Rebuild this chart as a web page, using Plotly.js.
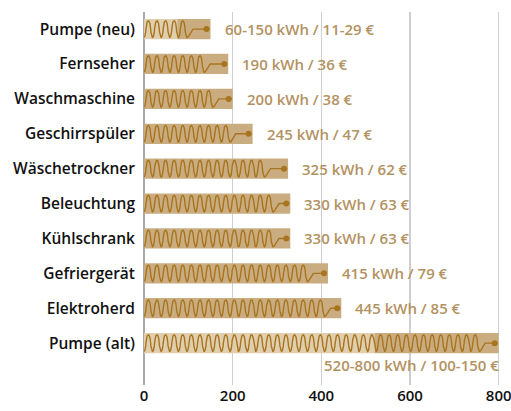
<!DOCTYPE html>
<html>
<head>
<meta charset="utf-8">
<script src="https://cdn.plot.ly/plotly-3.0.1.min.js"></script>
<style>html,body{margin:0;padding:0;background:#fff;}#chart{width:511px;height:411px;}</style>
</head>
<body>
<div id="chart"></div>
<script>
// Data (top to bottom)
const categories = ["Pumpe (neu)", "Fernseher", "Waschmaschine", "Geschirrspüler", "Wäschetrockner", "Beleuchtung", "Kühlschrank", "Gefriergerät", "Elektroherd", "Pumpe (alt)"];
const lowValues  = [75, 0, 0, 0, 0, 0, 0, 0, 0, 520];
const highValues = [150, 190, 200, 245, 325, 330, 330, 415, 445, 800];
const valueLabels = ["60-150 kWh / 11-29 €", "190 kWh / 36 €", "200 kWh / 38 €", "245 kWh / 47 €", "325 kWh / 62 €", "330 kWh / 63 €", "330 kWh / 63 €", "415 kWh / 79 €", "445 kWh / 85 €", "520-800 kWh / 100-150 €"];
const xTicks = [0, 200, 400, 600, 800];

const idx = categories.map((c, i) => i);
const lightCol = '#e0cfae';
const darkCol = '#c9ad80';
const lineCol = '#a9741f';
const textCol = '#b39262';
const font = "'Open Sans', 'DejaVu Sans', sans-serif";

// decorative coil line inside each bar
const P = 19.4, A = 0.24, tailLen = 36;
const c = 0.15 * P / (2 * Math.PI);
const wx = [], wy = [];
const px = [], py = [];
idx.forEach(i => {
  const v = highValues[i];
  const n = Math.floor((v - tailLen) / P);
  const end = n * P;
  const steps = n * 40;
  for (let k = 0; k <= steps; k++) {
    const t = 2 * Math.PI * n * k / steps;
    const cs = Math.cos(t);
    wx.push(P * t / (2 * Math.PI) - c * Math.sin(t));
    wy.push(i + A * Math.sign(cs) * Math.pow(Math.abs(cs), 0.6));
  }
  // tail rising to centre
  const tl = P * 0.7;
  for (let k = 1; k <= 16; k++) {
    const t = k / 16;
    wx.push(end + tl * t);
    wy.push(i + A * (1 + Math.cos(Math.PI * t)) / 2);
  }
  wx.push(v - 9); wy.push(i);
  wx.push(null); wy.push(null);
  // plug prongs
  wx.push(v - 9, v - 2, null); wy.push(i, i, null);
  px.push(v - 9); py.push(i);
});

const traces = [
  {type: 'bar', orientation: 'h', y: idx, x: lowValues,
   marker: {color: lightCol}, width: 0.58, hoverinfo: 'skip'},
  {type: 'bar', orientation: 'h', y: idx, x: highValues.map((h, i) => h - lowValues[i]), base: lowValues,
   marker: {color: darkCol}, width: 0.58, hoverinfo: 'skip'},
  {type: 'scatter', mode: 'lines', x: wx, y: wy, line: {color: lineCol, width: 1.4}, hoverinfo: 'skip', connectgaps: false},
  {type: 'scatter', mode: 'markers', x: px, y: py, marker: {color: lineCol, size: 6}, hoverinfo: 'skip'}
];

const annotations = idx.map(i => {
  const last = i === categories.length - 1;
  return last ? {
    x: highValues[i], y: i + 0.64, xref: 'x', yref: 'y', text: valueLabels[i], showarrow: false,
    xanchor: 'right', yanchor: 'middle', xshift: 2, font: {family: font, size: 15, color: textCol, weight: 600}
  } : {
    x: highValues[i], y: i, xref: 'x', yref: 'y', text: valueLabels[i], showarrow: false,
    xanchor: 'left', yanchor: 'middle', xshift: 12, font: {family: font, size: 15, color: textCol, weight: 600}
  };
});

const layout = {
  width: 511, height: 411,
  margin: {l: 144, r: 11, t: 12, b: 26},
  paper_bgcolor: '#fff', plot_bgcolor: '#fff',
  showlegend: false,
  barmode: 'overlay',
  xaxis: {range: [0, 803], tickvals: xTicks, showgrid: true, gridcolor: '#cfcfcf', gridwidth: 1.5,
          zeroline: true, zerolinecolor: '#aaaaaa', zerolinewidth: 2, showline: false,
          ticklabeloverflow: 'allow',
          tickfont: {family: font, size: 15, color: '#111', weight: 600}, fixedrange: true},
  yaxis: {range: [10.2, -0.49], tickvals: idx, ticktext: categories, showgrid: false, zeroline: false,
          ticks: '', ticklabelstandoff: 8,
          tickfont: {family: font, size: 15.5, color: '#111', weight: 600}, fixedrange: true},
  annotations: annotations
};

Plotly.newPlot('chart', traces, layout, {displayModeBar: false, staticPlot: true});
</script>
</body>
</html>
